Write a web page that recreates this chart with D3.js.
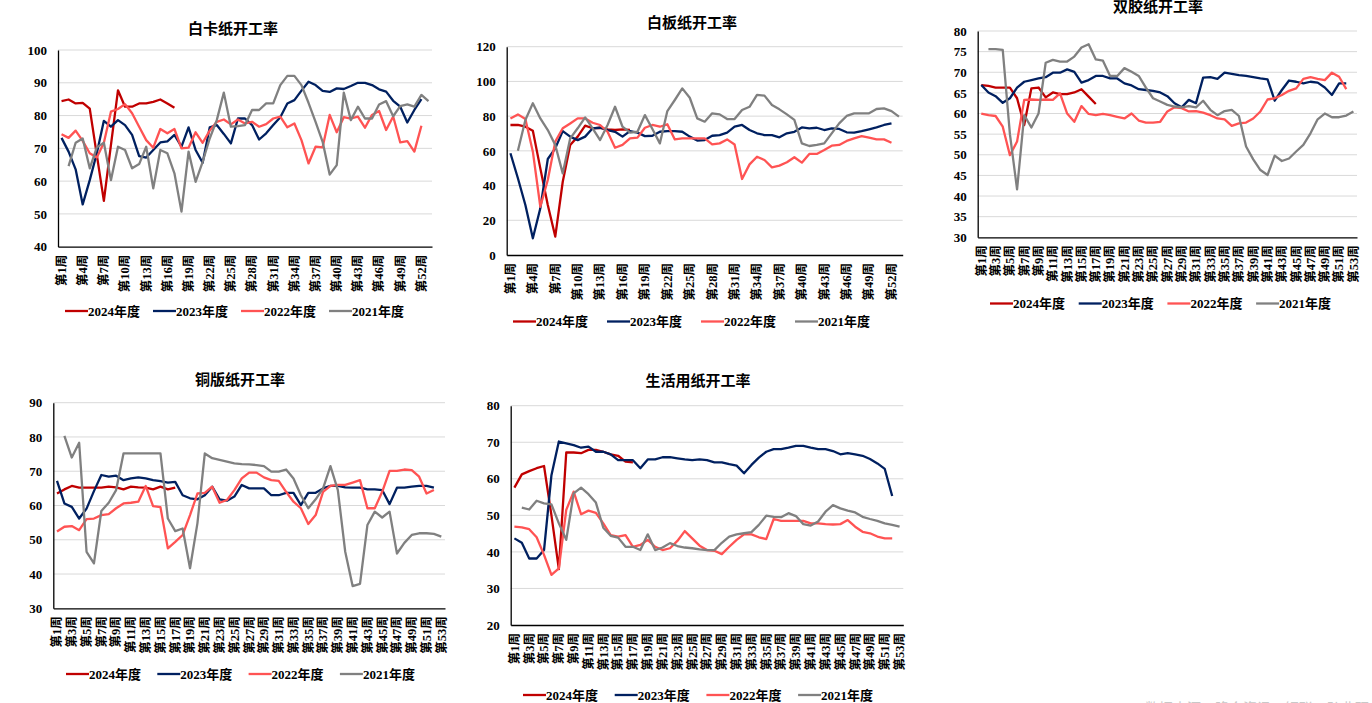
<!DOCTYPE html>
<meta charset="utf-8">
<style>
body { margin: 0; background: #fff; }
svg text { font-family: "Liberation Serif", "Noto Sans CJK SC", serif; font-weight: bold; fill: #000; }
</style>
<svg width="1372" height="703"></svg>
<script src="https://d3js.org/d3.v7.min.js"></script>
<script>

// weeks 1..53, labels "第n周"
var weeks = d3.range(1, 54);
var years = ["2024年度", "2023年度", "2022年度", "2021年度"];
var colors = ["#C00000", "#002060", "#FF5353", "#808080"];

// 白卡纸
var baika2024 = [84.4,84.9,83.7,83.9,82.1,68,54,71,87.7,82.7,82.7,83.7,83.7,84.2,84.9,83.7,82.4];
var baika2023 = [73.2,69,63.6,52.9,60.3,68.5,78.4,76.6,78.6,77.1,74.1,67.6,67.2,69.5,71.8,72.1,74.1,70.5,76.4,69.5,
  65.6,76.4,77.1,74.4,71.5,79.1,79.1,77.1,72.7,74.6,77.1,79.5,83.7,84.7,87.6,90.3,89.3,87.5,87.2,88.3,
  88.1,89,90,90,89.3,88,87.3,84.5,82.7,77.9,81.7,85];
var baika2022 = [74.3,73.2,75.4,72.3,68.5,67.2,71.7,81.2,82,83.5,80.7,76.6,72.5,70.2,75.9,74.6,75.9,70,70.2,74.9,
  71.7,75.4,78.1,78.8,77.3,78.8,77.6,78.1,76.6,77.4,79.1,79.7,76.4,77.6,72.5,65.4,70.5,70.3,80.2,74.9,
  79.5,79.1,79.7,76.3,80.2,81.4,75.6,79.7,71.8,72.2,69,76.9];
var baika2021 = [null,64.6,71.7,73,63.9,70.3,71.7,60.3,70.5,69.5,63.9,65.2,70.5,57.8,69.5,68.5,62.4,50.7,69,59.8,
  65.9,73,78.6,87,76.6,76.8,77.1,81.7,81.7,83.7,83.7,89.3,92.1,92.1,89.3,83.9,78.1,72,62,64.9,
  87,78.6,82.7,79.1,79.1,83.4,84.4,79.8,82.9,83.4,82.7,86.3,84.4];

// 白板纸
var baiban2024 = [74.9,74.9,73.9,71.6,49.9,28.8,10.6,42.2,63.4,68.2,74.5,73,73.3,72.4,72,72.4,72];
var baiban2023 = [58.6,44.2,28.8,9.6,26.9,55.3,61.4,71.4,68.2,66.2,68.2,73,73.3,72,71,68.2,71.4,70.5,68.5,68.7,
  71,71.4,71.4,71,68.2,65.9,66.2,68.7,69.1,70.5,73.9,74.9,72,70.1,69.1,69.1,67.8,70.1,71,73.5,
  73,73.3,72,73,72.6,70.7,70.5,71.4,72.4,73.5,74.9,75.8];
var baiban2022 = [78.7,81,78.3,59.5,27.8,43.2,65.3,73,75.8,78.7,78.7,76.2,74.9,71,61.8,63.4,67.2,67.6,73.3,74.9,
  73.9,75.3,66.6,67.2,67.2,67.2,67.2,63.7,64.3,66.6,63.7,43.8,52.2,56.6,54.7,50.5,51.5,53.4,56.3,53.2,
  58.2,58.2,60.5,63,63.4,65.7,67.2,68.5,67.6,66.6,66.6,64.7];
var baiban2021 = [null,60.1,77.8,87.4,78.7,72,63.4,47,67.2,73,79.3,73,66.2,74.9,85.4,73.9,70.5,71,80.6,72.6,
  64.3,82.9,89.3,96,90.6,78.7,76.8,81.6,81,78.3,78.3,83.5,85.4,92.2,91.8,86.4,83.9,81,77.8,64.3,
  62.8,63.4,64.3,70.1,75.8,80.1,81.6,81.6,81.6,84.1,84.5,82.9,79.7];

// 双胶纸
var shuangjiao2024 = [66.9,66.7,66.3,66.3,66.3,63.7,57.2,66.1,66.3,63.9,65.1,64.7,64.7,65.1,65.9,64.1,62.3];
var shuangjiao2023 = [66.9,65.1,64.2,62.6,63.7,66.3,67.7,68.1,68.5,68.8,69.9,69.9,70.7,70.1,67.5,68.1,69.1,69.1,68.5,68.5,
  67.3,66.8,65.9,65.7,65.5,65.1,64.2,62.5,61.5,63.3,62.5,68.7,68.8,68.4,69.9,69.6,69.3,69.1,68.8,68.5,
  68.3,63.1,65.7,68,67.7,67.3,67.7,67.5,66.3,64.5,67.3,67.3];
var shuangjiao2022 = [60,59.6,59.4,56.8,49.9,53.2,63.3,63.4,63.3,63.4,63.3,64.9,60,58,61.8,59.9,59.6,59.9,59.6,59.2,
  58.8,60,58.3,57.8,57.8,58,60.5,61.5,61.3,60.5,60.6,60.2,59.6,58.8,58.6,57,57.6,57.8,58.8,60.5,
  63.4,63.7,64.5,65.5,66.1,68.4,68.8,68.4,68.1,69.9,68.9,65.9];
var shuangjiao2021 = [null,75.6,75.6,75.4,55,41.6,59.6,56.6,60,72.3,73,72.6,72.6,73.8,76,76.8,73.1,72.8,69.1,69.1,
  71,70.1,69.1,66.3,63.7,62.9,62.1,61.7,61.5,61.8,61.5,63.1,60.9,59.6,60.6,60.9,59.4,52,48.9,46.3,
  45.1,49.8,48.5,49.1,50.8,52.4,55.2,58.6,60,59.1,59.1,59.5,60.5];

// 铜版纸
var tongban2024 = [63.5,64.7,65.7,65.2,65.2,65.2,65.2,65.5,65.3,64.7,65.5,65.3,65.2,64.7,65.5,64.7,65.2];
var tongban2023 = [67.2,60.6,59.6,56.2,59.1,64.2,68.9,68.4,68.7,67.4,67.9,68.2,67.9,67.4,67.1,66.7,66.9,63,62.1,61.8,
  63,65.5,61.8,61.4,62.6,66,65,65,65,63,63,63.7,63.7,60.1,63.7,63.7,65,65.7,65.7,65.3,
  65.2,65.2,64.7,64.7,64.5,60.4,65.2,65.2,65.5,65.7,65.7,65.2];
var tongban2022 = [52.4,53.8,54,52.8,56,56.2,57.2,57.5,59.2,60.6,60.8,61.1,65.7,59.8,59.5,47.5,49.4,51.4,57.2,63.5,
  63.7,65.5,60.8,61.6,64.5,67.9,69.6,69.6,68.2,67.4,67.2,64,61.1,59.2,54.6,57.2,64,65.7,66,66,
  66.7,67.4,59.2,59.2,64,70.1,70.1,70.5,70.3,68.4,63.5,64.5];
var tongban2021 = [null,80.3,74,78.3,46.5,43.1,58.4,60.8,64.5,75.2,75.2,75.2,75.2,75.2,75.2,56.2,52.5,53.3,41.7,54.8,
  75.2,73.8,73.3,72.8,72.3,72.1,72,71.8,71.5,69.9,69.9,70.5,67.9,63,59.2,61.8,65,71.5,64.5,46.5,
  36.5,37.1,54.3,58.2,56.5,58.2,46,49.1,51.4,51.9,51.9,51.7,50.9];

// 生活用纸
var shenghuo2024 = [57.6,61.2,62.1,62.9,63.5,50,35.3,67.2,67.2,67,67.9,67.9,67.4,66.7,66.3,64.7,64.5];
var shenghuo2023 = [43.7,42.5,38.2,38.2,40.5,61,70.2,69.7,69.2,68.5,68.8,67.4,67.4,66.7,65.1,65.1,65.1,62.9,65.3,65.3,
  65.9,65.9,65.6,65.3,65.1,65.3,65.1,64.5,64.5,64,63.6,61.5,63.8,65.8,67.4,68.1,68.1,68.5,69,69,
  68.5,68.1,68.1,67.6,66.7,67,66.7,66.3,65.4,64.2,62.7,55.3];
var shenghuo2022 = [46.9,46.7,46.2,44,39.2,33.7,35.5,51.5,56.5,50.3,51.3,50.7,47.8,44.6,44.2,44.6,41.4,41.9,43.3,41.4,
  40.5,41,43,45.7,43.7,41.7,40.5,40.3,39.4,41.4,43.3,44.8,44.8,44,43.5,49,48.5,48.5,48.5,48.5,
  47.8,47.8,47.6,47.5,47.6,48.7,46.9,45.5,45.1,44.2,43.7,43.7];
var shenghuo2021 = [null,52.1,51.6,54,53.3,53,47.8,43.3,56,57.6,55.8,53.5,46.6,44.4,43.9,41.4,41.4,40.5,44.8,40.5,
  41.2,42.4,41.6,41.2,41,40.7,40.5,40.5,42.5,44.2,44.8,45.1,45.4,47.4,49.9,49.6,49.5,50.6,49.8,47.6,
  47.2,48.3,51,52.8,51.9,51.3,50.8,49.6,49,48.5,47.8,47.4,46.9];

var panels = [
  {title: "白卡纸开工率", left: 58, right: 432, top: 50, bottom: 246.7, yMin: 40, yMax: 100, step: 10, every: 3,
   titleX: 233, titleY: 34, legendX: 65, legendY: 311, legendStep: 88,
   series: [baika2024, baika2023, baika2022, baika2021]},
  {title: "白板纸开工率", left: 506.7, right: 902.7, top: 46.7, bottom: 255, yMin: 0, yMax: 120, step: 20, every: 3,
   titleX: 692, titleY: 27.5, legendX: 513, legendY: 321.5, legendStep: 94,
   series: [baiban2024, baiban2023, baiban2022, baiban2021]},
  {title: "双胶纸开工率", left: 977.7, right: 1357, top: 31, bottom: 237.3, yMin: 30, yMax: 80, step: 5, every: 2,
   titleX: 1158, titleY: 12, legendX: 990, legendY: 303.5, legendStep: 88.7,
   series: [shuangjiao2024, shuangjiao2023, shuangjiao2022, shuangjiao2021]},
  {title: "铜版纸开工率", left: 53.3, right: 445, top: 402.7, bottom: 608.3, yMin: 30, yMax: 90, step: 10, every: 2,
   titleX: 240, titleY: 385, legendX: 66, legendY: 674, legendStep: 91.3,
   series: [tongban2024, tongban2023, tongban2022, tongban2021]},
  {title: "生活用纸开工率", left: 510.7, right: 903.3, top: 405.7, bottom: 625, yMin: 20, yMax: 80, step: 10, every: 2,
   titleX: 698, titleY: 385.5, legendX: 523, legendY: 695, legendStep: 91.7,
   series: [shenghuo2024, shenghuo2023, shenghuo2022, shenghuo2021]}
];

var svg = d3.select("svg");

panels.forEach(function(p) {
  var g = svg.append("g");
  var x = d3.scaleBand().domain(weeks).range([p.left, p.right]);
  var y = d3.scaleLinear().domain([p.yMin, p.yMax]).range([p.bottom, p.top]);
  var ticks = d3.range(p.yMin, p.yMax + p.step / 2, p.step);
  var bw = x.bandwidth();

  // gridlines
  g.append("g")
    .selectAll("line")
    .data(ticks.slice(1))
    .enter().append("line")
      .attr("x1", p.left).attr("x2", p.right)
      .attr("y1", function(d) { return y(d); })
      .attr("y2", function(d) { return y(d); })
      .attr("stroke", "#d9d9d9")
      .attr("stroke-width", 1);

  // y axis
  var ya = g.append("g")
      .attr("transform", "translate(" + p.left + ",0)")
      .call(d3.axisLeft(y).tickValues(ticks).tickSize(0).tickSizeOuter(0).tickPadding(11));
  ya.select(".domain").attr("stroke", "#000").attr("stroke-width", 1.3);
  ya.selectAll("text").attr("font-size", 13).attr("font-family", null);

  // x axis
  var xa = g.append("g")
      .attr("transform", "translate(0," + p.bottom + ")")
      .call(d3.axisBottom(x)
        .tickValues(weeks.filter(function(d) { return (d - 1) % p.every === 0; }))
        .tickSize(0).tickSizeOuter(0)
        .tickFormat(function(d) { return "第" + d + "周"; }));
  xa.select(".domain").attr("stroke", "#000").attr("stroke-width", 1.3);
  xa.selectAll("text")
      .attr("font-size", 12.5)
      .attr("font-family", null)
      .attr("y", 0)
      .attr("x", -8)
      .attr("dy", "0.35em")
      .attr("transform", "rotate(-90)")
      .style("text-anchor", "end");

  // lines
  var line = d3.line()
      .defined(function(d) { return d != null; })
      .x(function(d, i) { return x(weeks[i]) + bw / 2; })
      .y(function(d) { return y(d); });

  g.append("g")
    .selectAll("path")
    .data(p.series)
    .enter().append("path")
      .attr("fill", "none")
      .attr("stroke", function(d, i) { return colors[i]; })
      .attr("stroke-width", 2.3)
      .attr("stroke-linejoin", "round")
      .attr("d", line);

  // title
  g.append("text")
      .attr("x", p.titleX)
      .attr("y", p.titleY)
      .attr("text-anchor", "middle")
      .attr("font-size", 15)
      .style("font-family", "'Noto Sans CJK SC', sans-serif")
      .text(p.title);

  // legend
  var lg = g.append("g")
    .selectAll("g")
    .data(years)
    .enter().append("g")
      .attr("transform", function(d, i) { return "translate(" + (p.legendX + i * p.legendStep) + "," + p.legendY + ")"; });
  lg.append("line")
      .attr("x1", 0).attr("x2", 23)
      .attr("stroke", function(d, i) { return colors[i]; })
      .attr("stroke-width", 2.3);
  lg.append("text")
      .attr("x", 23)
      .attr("dy", "0.35em")
      .attr("font-size", 13)
      .text(function(d) { return d; });
});

// source note, cut by the bottom edge
svg.append("text")
    .attr("x", 1145)
    .attr("y", 713)
    .attr("font-size", 14)
    .style("font-weight", "normal")
    .style("fill", "#c8c8c8")
    .style("font-family", "'Noto Sans CJK SC', sans-serif")
    .text("数据来源：隆众资讯，钢联，弘业研究");

</script>
